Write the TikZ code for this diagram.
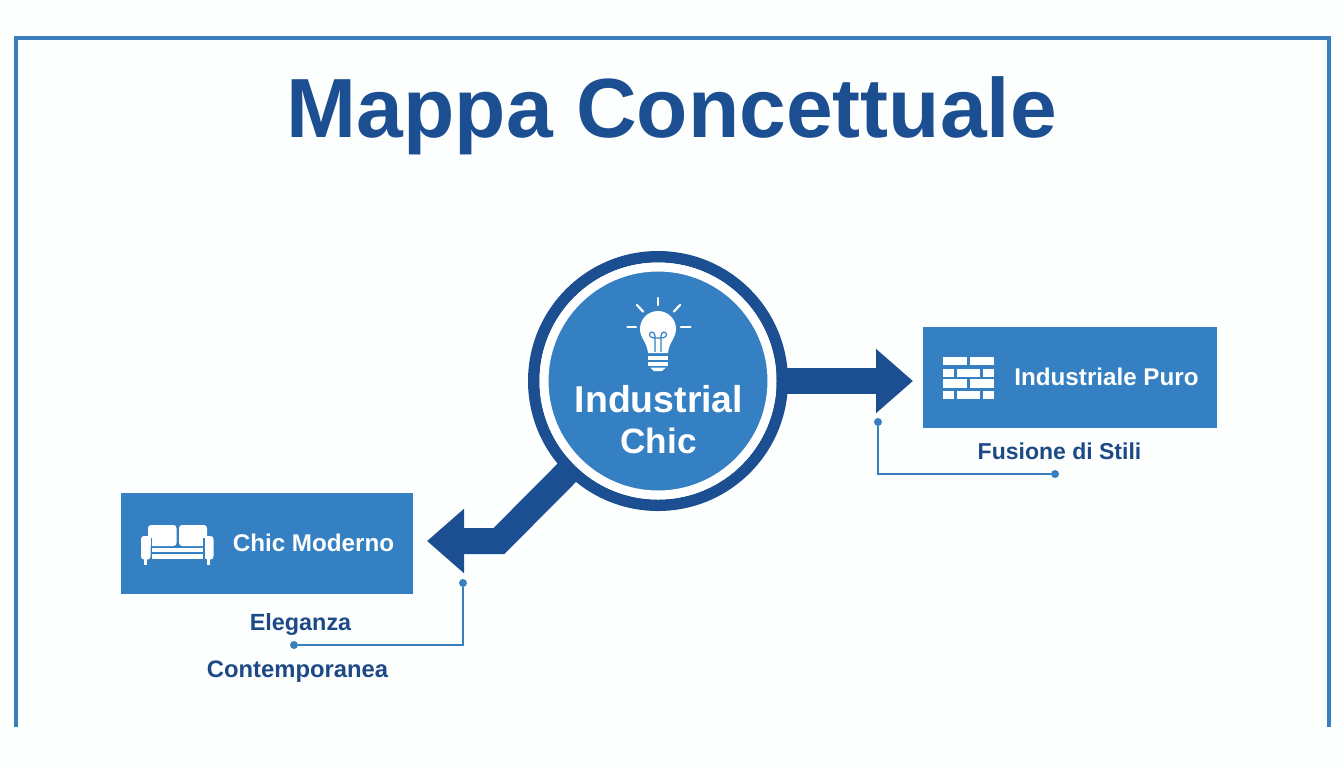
\documentclass[tikz,border=0pt]{standalone}
\usepackage{fontspec}
\setmainfont{Liberation Sans}
\usetikzlibrary{arrows.meta,backgrounds}
\definecolor{midblue}{HTML}{3480C2}
\definecolor{frameblue}{HTML}{3A7FBD}
\definecolor{darkblue}{HTML}{1B4F91}
\definecolor{inkblue}{HTML}{1C4A86}
\definecolor{pagewhite}{HTML}{FDFEFE}
\newcommand{\txt}[1]{\fontsize{#1}{#1}\selectfont\bfseries}
\tikzset{
  x=0.5pt,y=-0.5pt,
  framepath/.style={draw=frameblue,line width=2.2pt,line join=miter},
  hubdisc/.style={circle,fill=midblue,draw=white,line width=4.5pt,minimum size=114pt,inner sep=0pt,outer sep=0pt,align=center},
  hubring/.style={circle,draw=darkblue,line width=5.75pt,minimum size=124.25pt,inner sep=0pt,outer sep=0pt},
  topicbox/.style={fill=midblue,inner sep=0pt,outer sep=0pt},
  bigarrow/.style={draw=darkblue,line width=13pt,line join=miter,-{Triangle[width=31pt,length=18.5pt]}},
  leader/.style={draw=frameblue,line width=0.9pt},
  dot/.style={circle,fill=frameblue,minimum size=4pt,inner sep=0pt,outer sep=0pt},
  icon/.style={fill=white,draw=none},
  iconline/.style={draw=white,line width=1.1pt,line cap=round},
  caption/.style={text=inkblue,inner sep=0pt},
  boxlabel/.style={text=white,inner sep=0pt},
}
\begin{document}
\begin{tikzpicture}
\useasboundingbox (0,0) rectangle (1344,768);
\begin{pgfonlayer}{background}
\fill[pagewhite] (0,0) rectangle (1344,768);
\end{pgfonlayer}
% frame
\draw[framepath] (16,727) -- (16,38) -- (1329,38) -- (1329,727);
% title
\node[text=darkblue,inner sep=0pt] (title) at (672,116) {\txt{42}Mappa Concettuale};
% hub
\coordinate (hub) at (658,381);
\node[hubring] (ring) at (hub) {};
\node[hubdisc] (core) at (hub) {};
\node[boxlabel] (hubA) at (659,399) {\txt{18.7}Industrial};
\node[boxlabel] (hubB) at (658.5,441) {\txt{17.6}Chic};
% boxes
\node[topicbox,minimum width=147pt,minimum height=50.5pt] (boxR) at (1070,377.5) {};
\node[topicbox,minimum width=146pt,minimum height=50.5pt] (boxL) at (267,543.5) {};
\node[boxlabel] (labR) at (1106.5,377) {\txt{12.1}Industriale Puro};
\node[boxlabel] (labL) at (313.5,543) {\txt{12.1}Chic Moderno};
% arrows
\coordinate (tipR) at (913,381);
\coordinate (bend) at (499,541);
\coordinate (tipL) at (427,541);
\begin{pgfonlayer}{background}
\draw[bigarrow] (hub) -- (tipR);
\draw[bigarrow] (hub) -- (bend) -- (tipL);
\end{pgfonlayer}
% captions
\node[caption] (capR) at (1059.5,451) {\txt{11.5}Fusione di Stili};
\node[caption] (capL1) at (300.5,624) {\txt{11.7}Eleganza};
\node[caption] (capL2) at (297.5,672) {\txt{11.9}Contemporanea};
% leaders
\node[dot] (dR1) at (878,422) {};
\node[dot] (dR2) at (1055,474) {};
\draw[leader] (dR1) |- (dR2);
\node[dot] (dL1) at (463,583) {};
\node[dot] (dL2) at (294,645) {};
\draw[leader] (dL1) |- (dL2);
% bulb icon
\fill[icon] (640,329) .. controls (640,319) and (648,311) .. (658,311) .. controls (668,311) and (676,319) .. (676,329)
  .. controls (676,338) and (669,342) .. (668,353) -- (648,353) .. controls (647,342) and (640,338) .. (640,329) -- cycle;
\draw[draw=midblue,line width=0.6pt] (655,352) -- (655,336) .. controls (655,331) and (649.5,331) .. (649.5,334.5) .. controls (649.5,338) and (654,338) .. (658,338) .. controls (662,338) and (666.5,338) .. (666.5,334.5) .. controls (666.5,331) and (661,331) .. (661,336) -- (661,352);
\fill[icon] (648,356) rectangle (668,360);
\fill[icon] (648,362) rectangle (668,366);
\fill[icon] (650,367.5) -- (666,367.5) -- (662,371) -- (654,371) -- cycle;
\draw[iconline] (658,298) -- (658,305);
\draw[iconline] (637,305) -- (643,311.5);
\draw[iconline] (680,305) -- (674,311.5);
\draw[iconline] (627.5,327) -- (636,327);
\draw[iconline] (681,327) -- (690.5,327);
% sofa icon
\fill[icon,rounded corners=1.5pt] (148,525) rectangle (176.5,546);
\fill[icon,rounded corners=1.5pt] (179,525) rectangle (207,546);
\fill[icon,rounded corners=1.5pt] (141,536) rectangle (150.5,559.5);
\fill[icon,rounded corners=1.5pt] (204.5,536) rectangle (213.5,559.5);
\fill[midblue] (150.5,538) rectangle (152,559.5);
\fill[midblue] (203,538) rectangle (204.5,559.5);
\fill[icon] (152,547.5) rectangle (203,552);
\fill[icon] (152,554) rectangle (203,559);
\fill[icon] (144,559) rectangle (147,565);
\fill[icon] (207,559) rectangle (210,565);
% brick icon
\foreach \ya/\yb in {357/365,379/388}{
  \fill[icon] (943,\ya) rectangle (967,\yb);
  \fill[icon] (970,\ya) rectangle (993.5,\yb);
}
\foreach \ya/\yb in {368.5/377,391/399}{
  \fill[icon] (943,\ya) rectangle (954,\yb);
  \fill[icon] (957,\ya) rectangle (980,\yb);
  \fill[icon] (982.5,\ya) rectangle (993.5,\yb);
}
\end{tikzpicture}
\end{document}
